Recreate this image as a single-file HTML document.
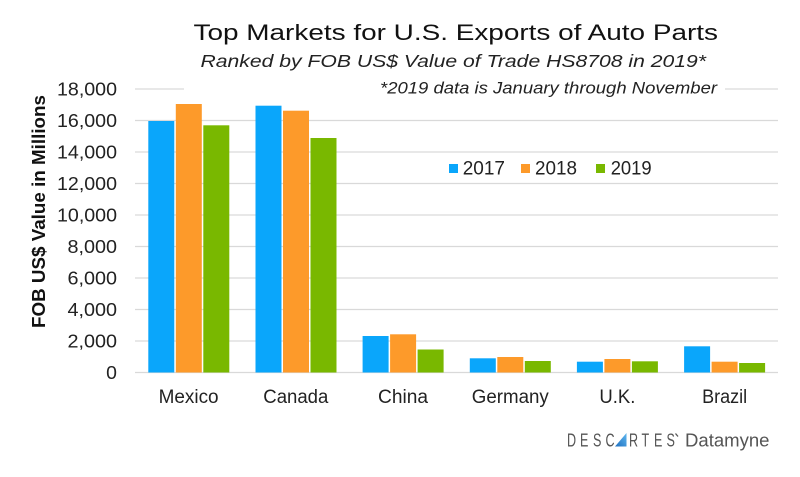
<!DOCTYPE html>
<html>
<head>
<meta charset="utf-8">
<style>
  html, body { margin:0; padding:0; background:#fff; }
  body { width:800px; height:477px; overflow:hidden; }
  svg { display:block; }
  text { font-family: "Liberation Sans", Arial, sans-serif; }
</style>
</head>
<body>
<svg width="800" height="477" viewBox="0 0 800 477" xmlns="http://www.w3.org/2000/svg">
  <rect width="800" height="477" fill="#ffffff"/>
  <defs>
    <linearGradient id="tri" x1="1" y1="0" x2="0" y2="1">
      <stop offset="0" stop-color="#5fb8f0"/>
      <stop offset="1" stop-color="#1f6fbf"/>
    </linearGradient>
  </defs>

  <!-- Titles -->
  <text x="193.5" y="40" font-size="22.3" fill="#111" textLength="524.5" lengthAdjust="spacingAndGlyphs">Top Markets for U.S. Exports of Auto Parts</text>
  <text x="200.5" y="67" font-size="17.2" font-style="italic" fill="#222" textLength="505.5" lengthAdjust="spacingAndGlyphs">Ranked by FOB US$ Value of Trade HS8708 in 2019*</text>
  <text x="380" y="93.5" font-size="16.6" font-style="italic" fill="#222" textLength="337" lengthAdjust="spacingAndGlyphs">*2019 data is January through November</text>

  <!-- Gridlines -->
  <g stroke="#d9d9d9" stroke-width="1.3">
    <line x1="135" y1="89" x2="184" y2="89"/>
    <line x1="725" y1="89" x2="778" y2="89"/>
    <line x1="135" y1="120.5" x2="778" y2="120.5"/>
    <line x1="135" y1="152" x2="778" y2="152"/>
    <line x1="135" y1="183.5" x2="778" y2="183.5"/>
    <line x1="135" y1="215" x2="778" y2="215"/>
    <line x1="135" y1="246.5" x2="778" y2="246.5"/>
    <line x1="135" y1="278" x2="778" y2="278"/>
    <line x1="135" y1="309.5" x2="778" y2="309.5"/>
    <line x1="135" y1="341" x2="778" y2="341"/>
    <line x1="135" y1="372.5" x2="778" y2="372.5"/>
  </g>

  <!-- Y tick labels -->
  <g font-size="18.6" fill="#222" text-anchor="end">
    <text x="117" y="95.7" textLength="60" lengthAdjust="spacingAndGlyphs">18,000</text>
    <text x="117" y="127.2" textLength="60" lengthAdjust="spacingAndGlyphs">16,000</text>
    <text x="117" y="158.7" textLength="60" lengthAdjust="spacingAndGlyphs">14,000</text>
    <text x="117" y="190.2" textLength="60" lengthAdjust="spacingAndGlyphs">12,000</text>
    <text x="117" y="221.7" textLength="60" lengthAdjust="spacingAndGlyphs">10,000</text>
    <text x="117" y="253.2" textLength="49.5" lengthAdjust="spacingAndGlyphs">8,000</text>
    <text x="117" y="284.7" textLength="49.5" lengthAdjust="spacingAndGlyphs">6,000</text>
    <text x="117" y="316.2" textLength="49.5" lengthAdjust="spacingAndGlyphs">4,000</text>
    <text x="117" y="347.7" textLength="49.5" lengthAdjust="spacingAndGlyphs">2,000</text>
    <text x="117" y="379.2" textLength="10.8" lengthAdjust="spacingAndGlyphs">0</text>
  </g>

  <!-- Y axis title -->
  <text transform="translate(45,211.5) rotate(-90)" text-anchor="middle" font-size="18.6" font-weight="bold" fill="#111" textLength="233" lengthAdjust="spacingAndGlyphs">FOB US$ Value in Millions</text>

  <!-- Bars -->
  <g>
    <!-- Mexico -->
    <rect x="148.3" y="121" width="26" height="251.5" fill="#0aa6fb"/>
    <rect x="175.8" y="104" width="26" height="268.5" fill="#fd9a2a"/>
    <rect x="203.3" y="125.3" width="26" height="247.2" fill="#79b800"/>
    <!-- Canada -->
    <rect x="255.5" y="105.7" width="26" height="266.8" fill="#0aa6fb"/>
    <rect x="283" y="110.7" width="26" height="261.8" fill="#fd9a2a"/>
    <rect x="310.5" y="138" width="26" height="234.5" fill="#79b800"/>
    <!-- China -->
    <rect x="362.6" y="336" width="26" height="36.5" fill="#0aa6fb"/>
    <rect x="390.1" y="334.3" width="26" height="38.2" fill="#fd9a2a"/>
    <rect x="417.6" y="349.5" width="26" height="23" fill="#79b800"/>
    <!-- Germany -->
    <rect x="469.8" y="358.3" width="26" height="14.2" fill="#0aa6fb"/>
    <rect x="497.3" y="357" width="26" height="15.5" fill="#fd9a2a"/>
    <rect x="524.8" y="361" width="26" height="11.5" fill="#79b800"/>
    <!-- U.K. -->
    <rect x="576.9" y="361.7" width="26" height="10.8" fill="#0aa6fb"/>
    <rect x="604.4" y="359" width="26" height="13.5" fill="#fd9a2a"/>
    <rect x="631.9" y="361.3" width="26" height="11.2" fill="#79b800"/>
    <!-- Brazil -->
    <rect x="684.1" y="346.3" width="26" height="26.2" fill="#0aa6fb"/>
    <rect x="711.6" y="361.7" width="26" height="10.8" fill="#fd9a2a"/>
    <rect x="739.1" y="363" width="26" height="9.5" fill="#79b800"/>
  </g>

  <!-- X labels -->
  <g font-size="19" fill="#222" text-anchor="middle">
    <text x="188.6" y="402.8" textLength="60" lengthAdjust="spacingAndGlyphs">Mexico</text>
    <text x="295.8" y="402.8" textLength="65" lengthAdjust="spacingAndGlyphs">Canada</text>
    <text x="403" y="402.8" textLength="50" lengthAdjust="spacingAndGlyphs">China</text>
    <text x="510.3" y="402.8" textLength="77" lengthAdjust="spacingAndGlyphs">Germany</text>
    <text x="617.4" y="402.8" textLength="36" lengthAdjust="spacingAndGlyphs">U.K.</text>
    <text x="724.6" y="402.8" textLength="45" lengthAdjust="spacingAndGlyphs">Brazil</text>
  </g>

  <!-- Legend -->
  <rect x="449" y="164" width="9" height="9" fill="#0aa6fb"/>
  <text x="462.7" y="174.3" font-size="19.5" fill="#222" textLength="42.3" lengthAdjust="spacingAndGlyphs">2017</text>
  <rect x="521" y="164" width="9" height="9" fill="#fd9a2a"/>
  <text x="535" y="174.3" font-size="19.5" fill="#222" textLength="42" lengthAdjust="spacingAndGlyphs">2018</text>
  <rect x="596" y="164" width="9" height="9" fill="#79b800"/>
  <text x="610.7" y="174.3" font-size="19.5" fill="#222" textLength="41" lengthAdjust="spacingAndGlyphs">2019</text>

  <!-- Logo -->
  <g transform="translate(0,446.5) scale(0.68,1)" fill="#555555" font-size="18.5">
    <text x="833.8 852.9 872.1 890.4" y="0">DESC</text>
    <text x="925 943.4 961.8 980.1" y="0">RTES</text>
  </g>
  <polygon points="615,446.5 626.5,433 626.5,446.5" fill="url(#tri)"/>
  <line x1="675.5" y1="433.5" x2="678" y2="436.5" stroke="#555555" stroke-width="1.3"/>
  <text x="685" y="446.5" font-size="18" fill="#555555" textLength="84.5" lengthAdjust="spacingAndGlyphs">Datamyne</text>
</svg>
</body>
</html>
